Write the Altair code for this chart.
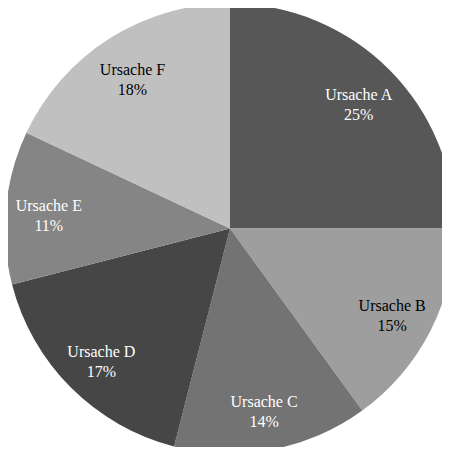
import altair as alt
import pandas as pd

categories = ["Ursache A", "Ursache B", "Ursache C", "Ursache D", "Ursache E", "Ursache F"]
values = [25, 15, 14, 17, 11, 18]
slice_colors = ["#575757", "#9e9e9e", "#737373", "#464646", "#858585", "#c0c0c0"]
label_colors = ["#ffffff", "#000000", "#ffffff", "#ffffff", "#ffffff", "#000000"]

df = pd.DataFrame({"category": categories, "value": values, "idx": list(range(len(categories)))})

base = alt.Chart(df).transform_calculate(
    label="[datum.category, datum.value + '%']"
).encode(
    theta=alt.Theta("value:Q", stack=True),
    order=alt.Order("idx:Q"),
    x=alt.value(222),
    y=alt.value(220.5),
)

arcs = base.mark_arc(radius=225).encode(
    color=alt.Color("category:N", scale=alt.Scale(domain=categories, range=slice_colors), legend=None)
)

text = base.mark_text(radius=182, dy=-5, font="Liberation Serif", fontSize=16, lineHeight=20,
                      align="center", baseline="middle").encode(
    text="label:N",
    color=alt.Color("category:N", scale=alt.Scale(domain=categories, range=label_colors), legend=None),
)

chart = alt.layer(arcs, text).resolve_scale(color="independent").properties(
    width=434, height=439, padding=0, autosize=alt.AutoSizeParams(type="none")
).configure_view(strokeWidth=0)

chart.save("out.html", embed_options={"renderer": "svg", "actions": False})
